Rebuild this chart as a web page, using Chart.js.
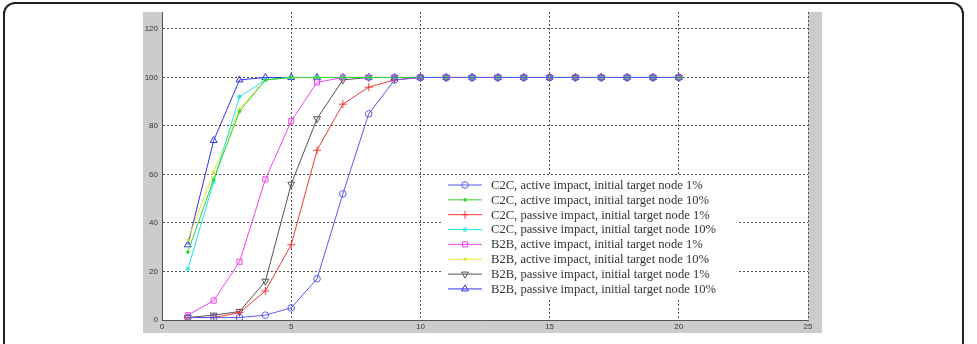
<!DOCTYPE html>
<html><head><meta charset="utf-8">
<script src="https://cdn.jsdelivr.net/npm/chart.js@4/dist/chart.umd.min.js"></script>
<style>
html,body{margin:0;padding:0;background:#fff;width:977px;height:344px;overflow:hidden;}
#frame{position:absolute;left:3px;top:2px;width:961px;height:400px;border:2px solid #222;border-radius:12px;box-sizing:border-box;}
#wrap{position:absolute;left:143px;top:12px;width:679px;height:321px;background:#cccccc;}
canvas{display:block;}
</style></head><body>
<div id="frame"></div>
<div id="wrap"><canvas id="c" width="679" height="321"></canvas></div>
<script>
const xValues = [1,2,3,4,5,6,7,8,9,10,11,12,13,14,15,16,17,18,19,20];
const c2cActive1   = [1,1,1,2,5,17,52,85,99,100,100,100,100,100,100,100,100,100,100,100];
const c2cActive10  = [28,58,86,99,100,100,100,100,100,100,100,100,100,100,100,100,100,100,100,100];
const c2cPassive1  = [1,1,3,12,31,70,89,96,99,100,100,100,100,100,100,100,100,100,100,100];
const c2cPassive10 = [21,57,92,99,100,100,100,100,100,100,100,100,100,100,100,100,100,100,100,100];
const b2bActive1   = [2,8,24,58,82,98,100,100,100,100,100,100,100,100,100,100,100,100,100,100];
const b2bActive10  = [33,61,87,99,100,100,100,100,100,100,100,100,100,100,100,100,100,100,100,100];
const b2bPassive1  = [1,2,3.5,16,56,83,99,100,100,100,100,100,100,100,100,100,100,100,100,100];
const b2bPassive10 = [31,74,99,100,100,100,100,100,100,100,100,100,100,100,100,100,100,100,100,100];
const seriesLabels = [
  'C2C, active impact, initial target node 1%',
  'C2C, active impact, initial target node 10%',
  'C2C, passive impact, initial target node 1%',
  'C2C, passive impact, initial target node 10%',
  'B2B, active impact, initial target node 1%',
  'B2B, active impact, initial target node 10%',
  'B2B, passive impact, initial target node 1%',
  'B2B, passive impact, initial target node 10%'
];
const yTickValues = [0,20,40,60,80,100,120];
const xTickValues = [0,5,10,15,20,25];

const allSeries = [c2cActive1,c2cActive10,c2cPassive1,c2cPassive10,b2bActive1,b2bActive10,b2bPassive1,b2bPassive10];
const styles = [
  {color:'#5a5af2', pointStyle:'circle', radius:3.3, rotation:0, fill:'rgba(0,0,0,0)'},
  {color:'#33d433', pointStyle:'circle', radius:1.3, rotation:0, fill:'#33d433'},
  {color:'#f03a3a', pointStyle:'cross', radius:4, rotation:0, fill:'rgba(0,0,0,0)'},
  {color:'#22e6e6', pointStyle:'star', radius:2.5, rotation:0, fill:'#22e6e6'},
  {color:'#f044f0', pointStyle:'rect', radius:3.6, rotation:0, fill:'rgba(0,0,0,0)'},
  {color:'#e6e633', pointStyle:'circle', radius:1.3, rotation:0, fill:'#e6e633'},
  {color:'#555555', pointStyle:'triangle', radius:4, rotation:180, fill:'rgba(0,0,0,0)'},
  {color:'#3434ee', pointStyle:'triangle', radius:4, rotation:0, fill:'rgba(0,0,0,0)'}
];

const datasets = allSeries.map((vals,i)=>({
  label: seriesLabels[i],
  data: xValues.map((x,j)=>({x:x,y:vals[j]})),
  borderColor: styles[i].color,
  backgroundColor: styles[i].fill,
  borderWidth: 1,
  pointStyle: styles[i].pointStyle,
  pointRadius: styles[i].radius,
  pointRotation: styles[i].rotation,
  pointBorderColor: styles[i].color,
  pointBackgroundColor: styles[i].fill,
  pointBorderWidth: 1,
  tension: 0,
  fill: false
}));

const areaBg = {
  id:'areaBg',
  beforeDraw(chart){
    const {ctx, chartArea:a} = chart;
    ctx.save(); ctx.fillStyle='#ffffff';
    ctx.fillRect(a.left,a.top,a.right-a.left,a.bottom-a.top);
    ctx.restore();
  }
};

const innerLegend = {
  id:'innerLegend',
  afterDraw(chart){
    const ctx = chart.ctx;
    const bx=298, by=164, bw=297, bh=122;
    ctx.save();
    ctx.fillStyle='#ffffff';
    ctx.fillRect(bx,by,bw,bh);
    ctx.font='12.6px "Liberation Serif", "Times New Roman", serif';
    ctx.textBaseline='middle';
    chart.data.datasets.forEach((ds,i)=>{
      const y = 173 + i*14.85;
      ctx.strokeStyle = ds.borderColor;
      ctx.lineWidth = 1;
      ctx.beginPath(); ctx.moveTo(305,y); ctx.lineTo(339,y); ctx.stroke();
      ctx.fillStyle = ds.pointBackgroundColor;
      if (Chart.helpers && Chart.helpers.drawPoint) {
        Chart.helpers.drawPoint(ctx,{pointStyle:ds.pointStyle,rotation:ds.pointRotation,radius:ds.pointRadius,borderWidth:1},322,y);
      }
      ctx.fillStyle='#333333';
      ctx.fillText(ds.label,348,y+0.5);
    });
    ctx.restore();
  }
};

new Chart(document.getElementById('c'),{
  type:'line',
  data:{datasets:datasets},
  plugins:[areaBg, innerLegend],
  options:{
    responsive:false,
    animation:false,
    devicePixelRatio:1,
    layout:{autoPadding:false,padding:{left:0,right:14,top:0,bottom:0}},
    plugins:{legend:{display:false},tooltip:{enabled:false}},
    scales:{
      x:{
        type:'linear', min:0, max:25,
        afterBuildTicks(s){ s.ticks = xTickValues.map(v=>({value:v})); },
        afterFit(s){ s.height = 13; s.paddingLeft = 0; s.paddingRight = 0; },
        ticks:{font:{size:8,family:'"Liberation Sans", Arial, sans-serif'},color:'#333',padding:2,maxRotation:0,autoSkip:false},
        grid:{color:'#555',lineWidth:1,drawTicks:false},
        border:{display:true,color:'#555',width:1,dash:[2,2]}
      },
      y:{
        min:0, max:127,
        afterBuildTicks(s){ s.ticks = yTickValues.map(v=>({value:v})); },
        afterFit(s){ s.width = 19; s.paddingTop = 0; s.paddingBottom = 0; },
        ticks:{font:{size:8,family:'"Liberation Sans", Arial, sans-serif'},color:'#333',padding:4,autoSkip:false},
        grid:{color:'#555',lineWidth:1,drawTicks:false},
        border:{display:true,color:'#555',width:1,dash:[2,2]}
      }
    }
  }
});
</script>
</body></html>
